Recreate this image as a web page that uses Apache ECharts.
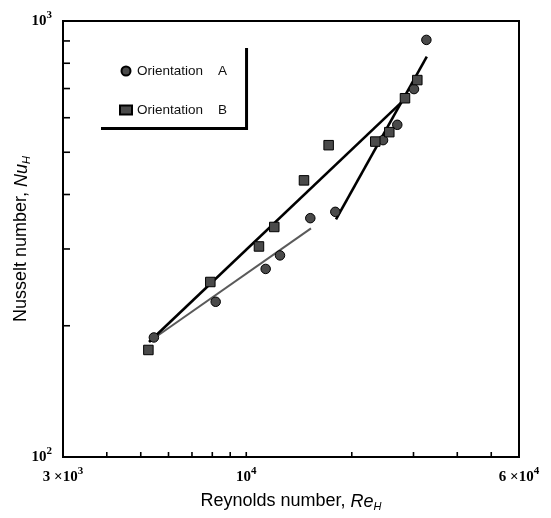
<!DOCTYPE html>
<html>
<head>
<meta charset="utf-8">
<script src="https://cdn.jsdelivr.net/npm/echarts@6/dist/echarts.min.js"></script>
<style>html,body{margin:0;padding:0;background:#fff;}#c{width:551px;height:518px;}</style>
</head>
<body>
<div id="c"></div>
<script>
// Orientation A (circles): Reynolds number, Nusselt number
const reA = [5450, 8180, 11360, 12480, 15230, 17950, 24560, 26970, 30100, 32650];
const nuA = [188, 227, 270, 290, 353, 365, 533, 578, 698, 905];
// Orientation B (squares)
const reB = [5257, 7897, 10870, 12020, 14610, 17180, 23340, 25590, 28370, 30760];
const nuB = [176, 252, 304, 337, 431, 519, 529, 556, 665, 732];
// Fit lines (end points)
const fit1Re = [5280, 28690];   // upper black line
const fit1Nu = [183.6, 668];
const fit2Re = [5314, 15300];   // lower grey line
const fit2Nu = [184.5, 334.5];
const fit3Re = [18030, 32740];  // steep black line
const fit3Nu = [350.7, 828.5];
// Axis ranges and minor ticks
const xMin = 3000, xMax = 60000, yMin = 100, yMax = 1000;
const xTicks = [4000, 5000, 6000, 7000, 8000, 9000, 10000, 20000, 30000, 40000, 50000];
const yTicks = [200, 300, 400, 500, 600, 700, 800, 900];
const xTickLabels = {3000: '{b|3 ×10}{s|3}', 10000: '{b|10}{s|4}', 60000: '{b|6 ×10}{s|4}'};
const yTickLabels = {100: '{b|10}{s|2}', 1000: '{b|10}{s|3}'};

const pairs = (xs, ys) => xs.map((x, i) => [x, ys[i]]);

const chart = echarts.init(document.getElementById('c'), null, {renderer: 'canvas'});
const serif = 'Liberation Serif';
const sans = 'Liberation Sans';
const richLab = {
  b: {fontFamily: serif, fontSize: 15, fontWeight: 'bold', color: '#000'},
  s: {fontFamily: serif, fontSize: 11, fontWeight: 'bold', color: '#000', padding: [0, 0, 12, 0]}
};
const richTitle = {
  n: {fontFamily: sans, fontSize: 18, color: '#000'},
  i: {fontFamily: sans, fontSize: 18, fontStyle: 'italic', color: '#000'},
  sub: {fontFamily: sans, fontSize: 11, fontStyle: 'italic', color: '#000', padding: [10, 0, 0, 0]}
};

function tickSeries(vals, isX) {
  return {
    type: 'custom',
    silent: true,
    clip: false,
    z: 5,
    data: vals.map(v => isX ? [v, yMin] : [xMin, v]),
    renderItem: function (params, api) {
      const p = api.coord([api.value(0), api.value(1)]);
      return {
        type: 'line',
        shape: isX ? {x1: p[0], y1: p[1], x2: p[0], y2: p[1] - 5}
                   : {x1: p[0], y1: p[1], x2: p[0] + 7, y2: p[1]},
        style: {stroke: '#000', lineWidth: 1.6}
      };
    }
  };
}

chart.setOption({
  animation: false,
  backgroundColor: '#fff',
  grid: {left: 63, top: 21, width: 456, height: 436, containLabel: false, outerBoundsMode: 'none',
         show: true, borderColor: '#000', borderWidth: 2, backgroundColor: 'transparent'},
  legend: {
    orient: 'vertical',
    left: 98, top: 45,
    padding: [19, 18, 10, 21],
    itemGap: 25,
    itemWidth: 12, itemHeight: 9,
    backgroundColor: '#fff',
    borderWidth: 0,
    shadowColor: '#000', shadowBlur: 0, shadowOffsetX: 3, shadowOffsetY: 3,
    data: ['Orientation A', 'Orientation B'],
    formatter: n => n.replace(' ', '    '),
    textStyle: {fontFamily: sans, fontSize: 13.5, color: '#111'}
  },
  xAxis: {
    type: 'log', logBase: 10, min: xMin, max: xMax,
    name: '{n|Reynolds number, }{i|Re}{sub|H}',
    nameLocation: 'middle', nameGap: 34, nameMoveOverlap: false,
    nameTextStyle: {rich: richTitle},
    axisLine: {show: false}, axisTick: {show: false}, splitLine: {show: false},
    axisLabel: {
      margin: 9,
      formatter: v => xTickLabels[Math.round(v)] || '',
      rich: richLab
    }
  },
  yAxis: {
    type: 'log', logBase: 10, min: yMin, max: yMax,
    name: '{n|Nusselt number, }{i|Nu}{sub|H}',
    nameLocation: 'middle', nameGap: 31, nameRotate: 90, nameMoveOverlap: false,
    nameTextStyle: {rich: richTitle},
    axisLine: {show: false}, axisTick: {show: false}, splitLine: {show: false},
    axisLabel: {
      margin: 11,
      formatter: v => yTickLabels[Math.round(v)] || '',
      rich: richLab
    }
  },
  series: [
    {type: 'line', data: pairs(fit2Re, fit2Nu), showSymbol: false, symbol: 'none', lineStyle: {color: '#5a5a5a', width: 2}, z: 2, silent: true},
    {type: 'line', data: pairs(fit1Re, fit1Nu), showSymbol: false, symbol: 'none', lineStyle: {color: '#000', width: 2.6}, z: 2, silent: true},
    {type: 'line', data: pairs(fit3Re, fit3Nu), showSymbol: false, symbol: 'none', lineStyle: {color: '#000', width: 2.6}, z: 2, silent: true},
    {name: 'Orientation A', type: 'scatter', symbol: 'circle', symbolSize: 9.5, data: pairs(reA, nuA),
     itemStyle: {color: '#4a4a4a', borderColor: '#000', borderWidth: 1, opacity: 1}, z: 3},
    {name: 'Orientation B', type: 'scatter', symbol: 'rect', symbolSize: 9.5, data: pairs(reB, nuB),
     itemStyle: {color: '#4a4a4a', borderColor: '#000', borderWidth: 1, opacity: 1}, z: 3},
    tickSeries(xTicks, true),
    tickSeries(yTicks, false)
  ]
});
</script>
</body>
</html>
